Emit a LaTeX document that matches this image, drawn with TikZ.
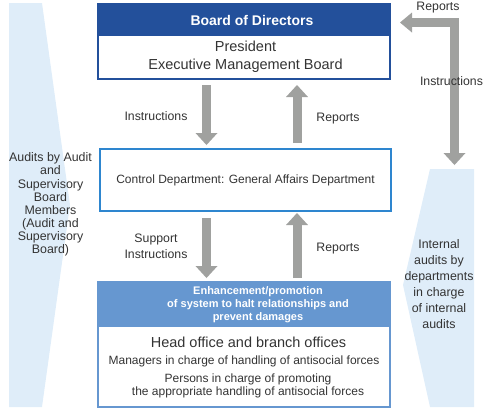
\documentclass[tikz,border=0pt]{standalone}
\usepackage{fontspec}
\setmainfont{Liberation Sans}
\usetikzlibrary{arrows.meta,calc}
\definecolor{dblue}{HTML}{23509B}
\definecolor{cblue}{HTML}{2E86CF}
\definecolor{mblue}{HTML}{6697D0}
\definecolor{lblue}{HTML}{DFEDF9}
\definecolor{agray}{HTML}{A0A19F}
\definecolor{tgray}{HTML}{333333}
\begin{document}
\begin{tikzpicture}[x=1pt,y=-1pt,
  every node/.style={text=tgray, inner sep=0pt, outer sep=0pt},
  lbl/.style={font=\fontsize{12.3}{16}\selectfont, align=center},
  bigarrow/.style={draw=agray, line width=9pt, line join=miter,
    -{Triangle[width=22pt,length=12pt,line width=0pt]}},
  larrow/.style={draw=agray, line width=9pt, line join=miter,
    {Triangle[width=20pt,length=12pt,line width=0pt]}-{Triangle[width=22pt,length=12pt,line width=0pt]}},
  box/.style={minimum width=292pt, anchor=north west, line width=2pt},
]
\useasboundingbox (0,0) rectangle (488,413);
% side shapes
\fill[lblue] (9,3) -- (42,3) -- (70,205) -- (42,407) -- (9,407) -- cycle;
\fill[lblue] (430,169) -- (474,169) -- (474,407) -- (430,407) -- (403,285) -- cycle;
% boxes
\node[box, draw=dblue, minimum height=75pt] (board) at (98,4) {};
\fill[dblue] (board.north west) rectangle ($(board.north east)+(0,32)$);
\node[box, draw=cblue, minimum width=291pt, minimum height=62pt] (control) at (100,149) {};
\node[box, draw=mblue, minimum height=125pt] (bottom) at (98,282) {};
\fill[mblue] (bottom.north west) rectangle ($(bottom.north east)+(0,45)$);
% texts in boxes
\node[text=white, font=\bfseries\fontsize{14}{16}\selectfont] (bodT) at (252,20.5) {Board of Directors};
\node[align=center, font=\fontsize{14.5}{18}\selectfont] (pres) at (245.5,57) {President\\Executive Management Board};
\node[font=\fontsize{12}{14}\selectfont] (ctrlT) at (245.5,180) {Control Department: General Affairs Department};
\node[text=white, align=center, font=\bfseries\fontsize{11}{13}\selectfont] (enh) at (258,304.5) {Enhancement/promotion\\of system to halt relationships and\\prevent damages};
\node[font=\fontsize{14.5}{16}\selectfont] (head) at (248.5,342) {Head office and branch offices};
\node[font=\fontsize{12}{14}\selectfont] (mgr) at (244,361) {Managers in charge of handling of antisocial forces};
\node[align=center, font=\fontsize{12}{13}\selectfont] (pers) at (248,385.5) {Persons in charge of promoting\\the appropriate handling of antisocial forces};
% side texts
\node[align=center, font=\fontsize{12.4}{13.1}\selectfont] (leftT) at (50.5,204.5) {Audits by Audit\\and\\Supervisory\\Board\\Members\\(Audit and\\Supervisory\\Board)};
\node[align=center, font=\fontsize{12.4}{16}\selectfont] (rightT) at (439,284) {Internal\\audits by\\departments\\in charge\\of internal\\audits};
% arrow coordinates
\coordinate (a1s) at (206.5,85);  \coordinate (a1e) at (206.5,145);
\coordinate (a2s) at (297,143);   \coordinate (a2e) at (297,85);
\coordinate (a3s) at (206.5,218); \coordinate (a3e) at (206.5,278);
\coordinate (a4s) at (297,278);   \coordinate (a4e) at (297,213);
\coordinate (lend) at (400,22.5); \coordinate (lcorner) at (454.5,22.5); \coordinate (lbot) at (454.5,165);
\draw[bigarrow] (a1s) -- (a1e);
\draw[bigarrow] (a2s) -- (a2e);
\draw[bigarrow] (a3s) -- (a3e);
\draw[bigarrow] (a4s) -- (a4e);
\draw[larrow] (lend) -- (lcorner) -- (lbot);
% labels
\node[lbl] (l1) at (156,116) {Instructions};
\node[lbl] (l2) at (338,119) {Reports};
\node[lbl] (l3) at (156,246) {Support\\Instructions};
\node[lbl] (l4) at (338,249) {Reports};
\node[lbl] (l5) at (438,8) {Reports};
\node[lbl] (l6) at (451.5,81) {Instructions};
\end{tikzpicture}
\end{document}
